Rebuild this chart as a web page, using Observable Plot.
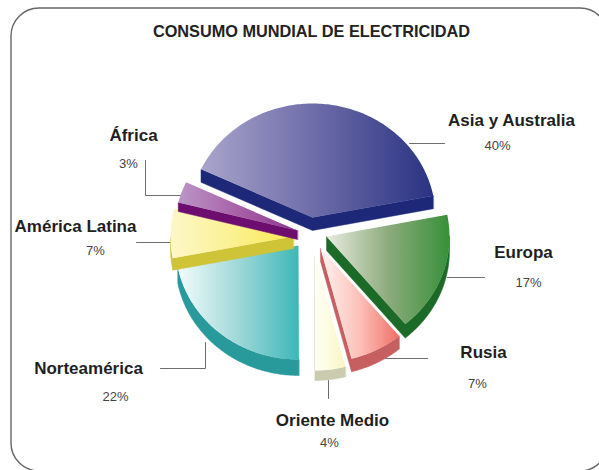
<!DOCTYPE html>
<html>
<head>
<meta charset="utf-8">
<script src="https://cdn.jsdelivr.net/npm/d3@7"></script>
<script src="https://cdn.jsdelivr.net/npm/@observablehq/plot@0.6"></script>
<style>
  html, body { margin: 0; padding: 0; background: #fff; overflow: hidden; }
  svg { display: block; }
</style>
</head>
<body>
<script>
// World electricity consumption by region, percent of total.
const categories = ["Asia y Australia", "Europa", "Rusia", "Oriente Medio", "Norteamérica", "América Latina", "África"];
const shares = [40, 17, 7, 4, 22, 7, 3];

// Face gradients (left to right) and the darker wall colour of each wedge.
const faceStops = [
  ["#a9a5cb", "#6c6ba8", "#2a3282"],
  ["#e8ecdf", "#8dab7d", "#379038"],
  ["#fff3f0", "#fcc0b8", "#ef6f66"],
  ["#fffff6", "#fdfbdd", "#f8f5c4"],
  ["#f2fcfc", "#a0d8d8", "#3db7b7"],
  ["#fdf7c8", "#fbf192", "#f7ea50"],
  ["#bb96c6", "#a861a8", "#8c3590"]
];
const wallColors = ["#1d2878", "#1c6a27", "#c65f60", "#cbcbb0", "#289a9b", "#cfc338", "#6d0d6f"];

// Pie layout: tilted ellipse radii, first wedge angle, per-wedge exploded apex and wall depth.
const radiusX = 123;
const radiusY = 114;
const startAngle = -65;
const apexes = [[312, 217], [326, 236], [320, 248], [314, 256], [298, 245], [293, 236], [297, 230]];
const depths = [13, 14, 13, 10, 16, 12, 9];

// Painting order, back wedges last so that they overlap the ones in front.
const paintOrder = [3, 2, 1, 4, 5, 6, 0];

// Label placement: name anchor, percent anchor, and leader polyline.
const namePos = [[511, 120], [523, 252], [483, 352], [332, 420], [88, 368], [75, 226], [133, 135]];
const pctPos = [[497, 145], [528, 282], [477, 383], [329, 442], [115, 396], [95, 250], [128, 163]];
const leaders = [
  [[409, 143], [444, 143]],
  [[447, 277], [484, 277]],
  [[385, 358], [427, 358]],
  [[328, 380], [328, 398]],
  [[205, 342], [205, 368], [160, 368]],
  [[136, 242], [171, 242]],
  [[145, 160], [145, 195], [180, 195]]
];

const chartTitle = "CONSUMO MUNDIAL DE ELECTRICIDAD";
const fontFamily = "'Liberation Sans', Arial, sans-serif";

// Wedge angles follow from the shares, 3.6 degrees per percent.
let cursor = startAngle;
const wedges = shares.map((share, i) => {
  const t0 = cursor;
  const t1 = cursor + share * 3.6;
  cursor = t1;
  const [ax, ay] = apexes[i];
  const perimeter = [[ax, ay]];
  const steps = Math.max(6, Math.ceil(t1 - t0));
  for (let s = 0; s <= steps; ++s) {
    const t = (t0 + (t1 - t0) * s / steps) * Math.PI / 180;
    perimeter.push([ax + radiusX * Math.sin(t), ay - radiusY * Math.cos(t)]);
  }
  return {i, perimeter, wall: wallOutline(perimeter, depths[i])};
});

// Edges running leftward on a clockwise outline face the viewer; sweep them down by the depth.
function wallOutline(points, depth) {
  const n = points.length;
  const faces = k => points[(k + 1) % n][0] < points[k][0];
  let first = 0;
  for (let k = 0; k < n; ++k) {
    if (faces(k) && !faces((k + n - 1) % n)) { first = k; break; }
  }
  const run = [points[first]];
  for (let k = first; faces(k % n) && run.length <= n; ++k) run.push(points[(k + 1) % n]);
  return run.concat(run.slice().reverse().map(([x, y]) => [x, y + depth]));
}

// SVG gradient definitions referenced by the wedge faces.
function gradientDefs() {
  const defs = d3.create("svg:defs");
  faceStops.forEach((stops, i) => {
    const g = defs.append("linearGradient").attr("id", `face-${i}`)
      .attr("x1", 0).attr("x2", 1).attr("y1", 0).attr("y2", 0);
    stops.forEach((c, k) => g.append("stop").attr("offset", k / (stops.length - 1)).attr("stop-color", c));
  });
  return defs.node();
}

const wedgeMarks = paintOrder.flatMap(i => {
  const w = wedges[i];
  return [
    Plot.line(w.wall, {x: d => d[0], y: d => d[1], curve: "linear-closed", fill: wallColors[i], stroke: wallColors[i], strokeWidth: 0.5}),
    Plot.line(w.perimeter, {x: d => d[0], y: d => d[1], curve: "linear-closed", fill: `url(#face-${i})`, stroke: "none"})
  ];
});

const leaderMarks = leaders.map(points =>
  Plot.line(points, {x: d => d[0], y: d => d[1], stroke: "#6e6e6e", strokeWidth: 1})
);

const chart = Plot.plot({
  width: 599,
  height: 470,
  margin: 0,
  style: {background: "#fff", fontFamily},
  x: {domain: [0, 599], range: [0, 599], axis: null},
  y: {domain: [0, 470], range: [0, 470], axis: null},
  marks: [
    gradientDefs,
    Plot.rect([0], {x1: () => 11, x2: () => 608, y1: () => 8, y2: () => 471, rx: 28, fill: "#fff", stroke: "#666", strokeWidth: 1.4}),
    ...leaderMarks,
    ...wedgeMarks,
    Plot.text([chartTitle], {x: () => 311, y: () => 31, text: d => d, fontSize: 16.3, fontWeight: "bold", fill: "#222"}),
    Plot.text(categories, {x: (d, i) => namePos[i][0], y: (d, i) => namePos[i][1], text: d => d, fontSize: 17, fontWeight: "bold", fill: "#1f1f1f"}),
    Plot.text(shares, {x: (d, i) => pctPos[i][0], y: (d, i) => pctPos[i][1], text: d => `${d}%`, fontSize: 13, fill: "#444"})
  ]
});
document.body.appendChild(chart);
</script>
</body>
</html>
